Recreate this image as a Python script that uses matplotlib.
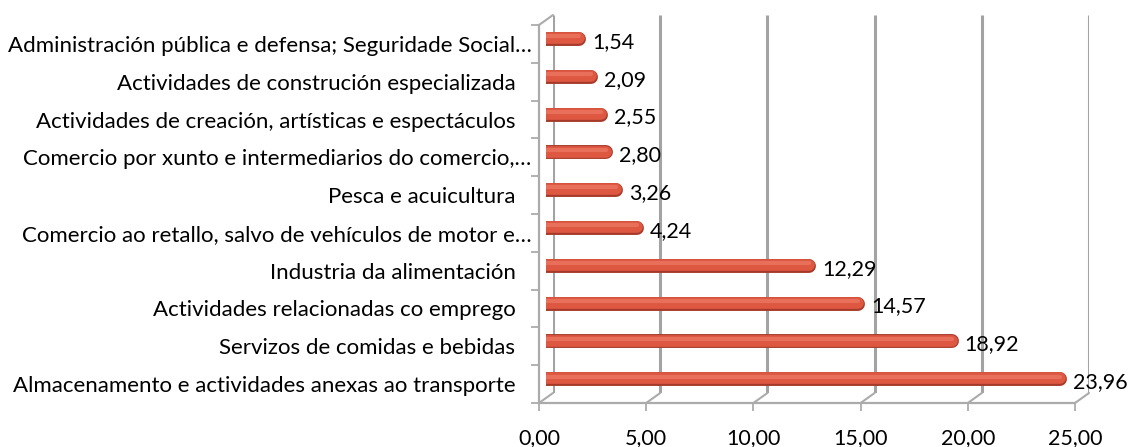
import matplotlib
matplotlib.use('Agg')
import matplotlib.pyplot as plt
from matplotlib.patches import ConnectionPatch
from matplotlib.transforms import offset_copy, ScaledTranslation

plt.rcParams['font.family'] = ['Lato', 'DejaVu Sans']

# Data, bottom to top as drawn.
categories = [
    'Almacenamento e actividades anexas ao transporte',
    'Servizos de comidas e bebidas',
    'Actividades relacionadas co emprego',
    'Industria da alimentación',
    'Comercio ao retallo, salvo de vehículos de motor e…',
    'Pesca e acuicultura',
    'Comercio por xunto e intermediarios do comercio,…',
    'Actividades de creación, artísticas e espectáculos',
    'Actividades de construción especializada',
    'Administración pública e defensa; Seguridade Social…',
]
values = [23.96, 18.92, 14.57, 12.29, 4.24, 3.26, 2.80, 2.55, 2.09, 1.54]
xticks = [0, 5, 10, 15, 20, 25]
xtick_labels = ['0,00', '5,00', '10,00', '15,00', '20,00', '25,00']

W, H = 1135, 447
fig = plt.figure(figsize=(W / 100, H / 100), dpi=100)

# Three planes: back wall, bar plane, front axis plane (pixel offsets).
def plane(dx, dy):
    left = (546 + dx) / W
    bottom = (H - 398 - dy) / H
    return fig.add_axes([left, bottom, 536 / W, 378 / H])

ax_back = plane(7, -5)
ax_mid = plane(0, 0)
ax_front = plane(-7, 5)

n = len(categories)
ypos = list(range(n))
for a in (ax_back, ax_mid, ax_front):
    a.set_xlim(0, 25)
    a.set_ylim(-0.5, n - 0.5)
    a.set_facecolor('none')
for a in (ax_back, ax_mid):
    a.axis('off')

grid_col = '#a3a3a3'
axis_col = '#ababab'
fs = 15.5

# Back wall gridlines.
ax_back.vlines(xticks, -0.5, n - 0.5, color=grid_col, lw=2.2)

# Floor and wall connectors between front axis and back wall.
for v in xticks:
    con = ConnectionPatch(xyA=(v, -0.5), coordsA=ax_front.transData,
                          xyB=(v, -0.5), coordsB=ax_back.transData,
                          color=axis_col, lw=1.5)
    fig.add_artist(con)
con = ConnectionPatch(xyA=(0, n - 0.5), coordsA=ax_front.transData,
                      xyB=(0, n - 0.5), coordsB=ax_back.transData,
                      color=axis_col, lw=1.5)
fig.add_artist(con)

# Cylinder-like bars: dark outline, body, highlight.
layers = [(10.0, '#a63a2a', 0), (8.4, '#de5841', 0.8), (3.0, '#e8705b', 2.6)]
for lw, col, dy in layers:
    tr = offset_copy(ax_mid.transData, fig, x=0, y=dy, units='dots')
    lc = ax_mid.hlines(ypos, 0, values, color=col, lw=lw, transform=tr)
    lc.set_capstyle('round')

# Value labels.
tr_lab = offset_copy(ax_mid.transData, fig, x=13, y=-3, units='dots')
for y, v in zip(ypos, values):
    ax_mid.text(v, y, '{:.2f}'.format(v).replace('.', ','), transform=tr_lab,
                ha='left', va='center', fontsize=fs, color='black')

# Front axes: spines, ticks and labels.
for s in ('top', 'right'):
    ax_front.spines[s].set_visible(False)
for s in ('left', 'bottom'):
    ax_front.spines[s].set_color(axis_col)
    ax_front.spines[s].set_linewidth(1.6)
ax_front.set_xticks(xticks)
ax_front.set_xticklabels(xtick_labels, fontsize=fs)
ax_front.tick_params(axis='x', length=5.8, width=1.3, color=axis_col, pad=12)
ax_front.set_yticks(ypos)
ax_front.set_yticklabels(categories, fontsize=16)
ax_front.set_yticks([y - 0.5 for y in range(n + 1)], minor=True)
ax_front.tick_params(axis='y', which='major', length=0, pad=17)
ax_front.tick_params(axis='y', which='minor', length=5.8, width=1.3, color=axis_col)

# Truncated labels sit closer to the axis, as in the original.
shift = ScaledTranslation(16 / 100, 0, fig.dpi_scale_trans)
for lab in ax_front.get_yticklabels():
    if lab.get_text().endswith('…'):
        lab.set_transform(lab.get_transform() + shift)

fig.savefig('out.png', dpi=100)
